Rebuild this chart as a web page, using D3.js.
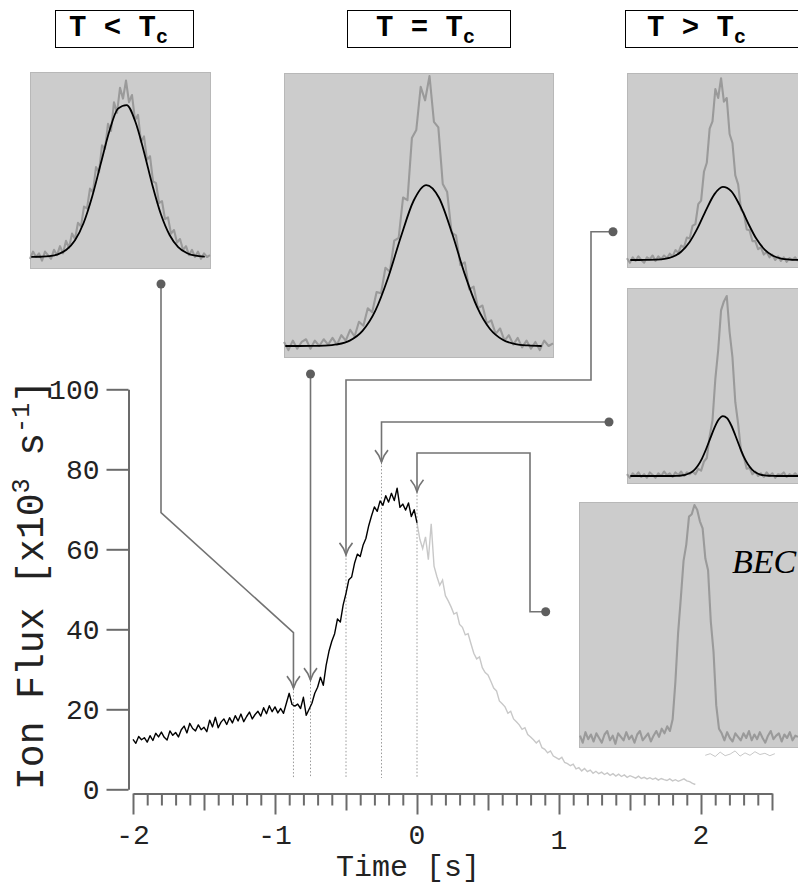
<!DOCTYPE html>
<html><head><meta charset="utf-8">
<script src="https://cdn.jsdelivr.net/npm/d3@7"></script>
<style>body{margin:0;background:#fff}text{white-space:pre}</style>
</head><body><svg id="c" width="798" height="892"></svg>
<script>
// ---------------- DATA ----------------
const xTickLabels = [-2, -1, 0, 1, 2];
const yTicks = [0, 20, 40, 60, 80, 100];

// main ion-flux trace before release (black), t from -2 s, step 0.02 s
const blackStart = -2, blackStep = 0.02;
const blackFlux = [12.5,11.5,13.2,12.4,12.9,11.8,13.4,12.2,14.0,13.1,14.3,13.0,12.3,14.6,13.5,14.2,13.1,14.9,15.8,14.1,
16.5,15.2,14.6,16.1,14.9,15.5,14.4,17.3,15.6,18.0,15.4,16.8,17.6,16.2,17.9,16.6,18.4,17.1,18.8,16.9,
18.2,19.3,17.6,18.7,19.5,18.3,20.4,18.9,20.9,19.4,20.6,19.1,20.2,19.0,21.5,24.0,21.2,20.8,21.3,20.2,
23.0,18.5,20.0,21.5,24.0,25.5,28.0,26.0,31.0,34.5,37.0,38.9,42.6,41.8,46.1,49.0,52.4,53.1,56.5,58.8,
58.2,61.0,62.7,65.9,68.4,70.6,69.5,72.1,71.0,73.4,71.8,74.0,72.2,75.3,70.5,71.3,69.8,71.6,68.2,69.9,66.6];

// trace after t = 0 (light grey), step 0.02 s
const grayStart = 0, grayStep = 0.02;
const grayFlux = [66.6,62.5,60.2,63.1,57.4,66.4,55.8,53.2,51.0,52.3,48.4,47.1,45.6,43.8,44.2,41.2,40.5,38.6,38.9,36.4,
34.0,32.6,33.1,30.4,29.2,28.6,27.0,25.3,24.6,22.1,21.4,20.6,19.0,19.5,17.6,16.9,16.1,15.0,15.4,13.7,
13.1,12.4,11.6,12.2,10.4,10.0,9.1,9.6,8.3,7.9,7.5,8.0,6.7,6.4,5.9,6.3,5.1,5.4,4.6,5.2,
4.4,4.8,4.0,4.5,3.9,4.3,3.7,4.1,3.5,3.9,3.3,3.8,3.2,3.6,3.0,3.4,3.1,2.8,3.3,2.7,
3.0,2.6,2.9,2.5,2.8,2.3,2.7,2.4,2.2,2.6,2.1,2.4,2.0,2.3,2.6,2.1,1.9,1.5,1.2];

// short faint segment below the BEC inset
const tailStart = 2.03, tailStep = 0.035;
const tailFlux = [8.5,8.9,8.2,9.3,8.4,8.8,9.6,8.3,9.1,8.5,9.4,8.7,9.0,8.4,8.9];

// snapshot times and flux level at the arrow tip
const snapTimes = [-0.87, -0.75, -0.5, -0.25, 0];
const snapTipFlux = [25.3, 27.3, 58.6, 81.8, 74.4];

// temperature labels
const tempLabels = ["T < T", "T = T", "T > T"];
const tempSub = "c";

// inset profiles (normalised signal 0..100)
const profileA = [-1,3,0,2,-2,3,1,-1,4,1,6,2,9,5,13,10,19,17,28,27,38,36,50,47,62,60,74,70,86,80,94,88,98,86,90,76,79,64,67,54,56,42,41,30,31,21,22,13,15,8,10,4,6,1,4,0,3,-1,2,0,1];
const fitA = [0.03,0.14,0.48,1.5,4.0,9.3,18.9,33.6,51.9,70.0,82.4,84.4,75.4,58.8,39.9,23.6,12.2,5.5,2.2,0.7,0.2];

const profileB = [1.5,-1.5,2,-1,1.5,2.5,-1,2,0,2.5,0.5,3,0.5,4,2,6,3.5,9,7.5,14,12.5,20,19.5,29,27.5,39,40,55,54,77,80,96,91,100,83,81,60,57,42,41,30,31,21,22,14,15,8.5,9.5,4.5,6.5,2,4,0.5,3,-0.5,2,-1,1.5,-1.5,2,0,1];
const fitB = [0,0,0.03,0.15,0.6,2.0,5.6,13.0,25.2,40.3,53.7,59.6,54.9,42.1,26.9,14.3,6.3,2.3,0.7,0.2,0];

const profileC = [1,-1.5,1.5,-0.5,2,0,-1.5,1.5,0.5,2.5,-0.5,2,0.5,2.5,1,3.5,2,5.5,4,8,7,12.5,12,19,20,31,33,49,54,73,77,95,90,101,88,90,70,65,47,42,28,26,17,16.5,10.5,10.5,6,7,3,4.5,1.5,3,0,2,-0.5,1.5,-1,1,0,1.5,-0.5];
const fitC = [0,0,0.04,0.17,0.6,1.8,4.6,9.9,18.0,27.9,36.6,40.6,38.3,30.6,20.7,11.9,5.8,2.4,0.8,0.25,0.06];

const profileD = [1,-1,1.5,0,2,-0.5,1,-1,2,0.5,-1,1.5,0,2.5,0.5,1.5,-0.5,2,0.5,2.5,0,2,1,2.5,1,4,3,8,10,22,31,54,70,92,97,100,80,66,41,29,14,10.5,4,4.5,1,2.5,0,1.5,-0.5,2,0,1.5,-1,1,0.5,2,-0.5,1,0,1.5,0];
const fitD = [0,0,0,0,0,0,0,0,0,0,0,0.1,0.27,0.66,1.5,3.0,5.7,9.7,15.0,21.0,26.9,31.4,33.3,32.1,28.2,22.5,16.4,10.8,6.5,3.6,1.8,0.8,0.34,0.13,0.05,0,0,0,0,0,0];

const profileE = [1,-2,2.5,-0.5,1.5,-1.5,2,0,-2,1.5,3,-1,1,-2.5,2,0.5,-1,2.5,-0.5,1,-2,1.5,3,-1,0.5,2,-1.5,1,3,0.5,4,2,5,3,8,24,45,60,76,83,95,96,100,98,93,90,77,72,50,37,14,4,2,-1,2.5,0,-1.5,2,0.5,-1,2,0,3,-1,1.5,-0.5,2.5,0,-2,1,3,-0.5,1,2,-1.5,1.5,0,2.5,-1,1,0.5];

// ---------------- DRAWING ----------------
const svg = d3.select('#c');
const mono = "'Liberation Mono','Courier New',monospace";
const axisColor = '#6b6b6b';
const connColor = '#737373';

const x = d3.scaleLinear().domain([-2, 2.5]).range([133, 772]);
const y = d3.scaleLinear().domain([0, 100]).range([789.3, 389.3]);

// ---- insets ----
const panels = [
  {box:[30,72,180,196], data:profileA, dRange:[30,210], fit:fitA, fRange:[32,204], base:257, top:77},
  {box:[284,73,269,284], data:profileB, dRange:[284,553], fit:fitB, fRange:[286,541], base:346, top:76},
  {box:[627,73,175,194], data:profileC, dRange:[627,798], fit:fitC, fRange:[631,798], base:260, top:80},
  {box:[627,288,175,195], data:profileD, dRange:[627,798], fit:fitD, fRange:[631,798], base:476, top:296},
  {box:[579,502,223,245], data:profileE, dRange:[580,798], fit:null, base:738, top:505}
];
panels.forEach(p => {
  const g = svg.append('g');
  g.append('rect').attr('x',p.box[0]+0.5).attr('y',p.box[1]+0.5).attr('width',p.box[2]).attr('height',p.box[3])
    .attr('fill','#cccccc').attr('stroke','#b8b8b8').attr('stroke-width',1);
  const py = d3.scaleLinear().domain([0,100]).range([p.base, p.top]);
  const px = d3.scaleLinear().domain([0, p.data.length-1]).range(p.dRange);
  g.append('path').datum(p.data)
    .attr('d', d3.line().x((d,i)=>px(i)).y(d=>py(d)))
    .attr('fill','none').attr('stroke','#9a9a9a').attr('stroke-width',2.1).attr('stroke-linejoin','round');
  if (p.fit) {
    const fx = d3.scaleLinear().domain([0, p.fit.length-1]).range(p.fRange);
    g.append('path').datum(p.fit)
      .attr('d', d3.line().x((d,i)=>fx(i)).y(d=>py(d)).curve(d3.curveMonotoneX))
      .attr('fill','none').attr('stroke','#000').attr('stroke-width',1.8).attr('stroke-linecap','round');
  }
});
svg.append('text').attr('x',732).attr('y',573).attr('font-family',"'Liberation Serif','Times New Roman',serif")
  .attr('font-style','italic').attr('font-size',34).attr('fill','#000').text('BEC');

// ---- temperature label boxes ----
const boxes = [[55,10,138,37,69],[347,10,163,37,376],[625,10,180,37,647]];
tempLabels.forEach((t,i) => {
  const b = boxes[i];
  svg.append('rect').attr('x',b[0]+0.5).attr('y',b[1]+0.5).attr('width',b[2]).attr('height',b[3])
    .attr('fill','#fff').attr('stroke','#000').attr('stroke-width',1);
  const tx = svg.append('text').attr('x',b[4]).attr('y',36).attr('font-family',mono)
    .attr('font-weight','bold').attr('font-size',29).attr('fill','#000');
  tx.append('tspan').text(t);
  tx.append('tspan').attr('dy',7).attr('font-size',20).text(tempSub);
});

// ---- axes ----
const gy = svg.append('g').attr('transform','translate(128.5,0)')
  .call(d3.axisLeft(y).tickValues(yTicks).tickSize(22).tickSizeOuter(0).tickPadding(7));
gy.select('.domain').attr('stroke',axisColor).attr('stroke-width',2);
gy.selectAll('.tick line').attr('stroke',axisColor).attr('stroke-width',2);
gy.selectAll('.tick text').attr('font-family',mono).attr('font-size',28).attr('fill','#222');

const minorTicks = d3.range(-20, 26).map(d => d/10);
const gx = svg.append('g').attr('transform','translate(0,793.5)')
  .call(d3.axisBottom(x).tickValues(minorTicks).tickSize(12).tickSizeOuter(0).tickFormat(''));
gx.select('.domain').attr('stroke',axisColor).attr('stroke-width',2);
gx.selectAll('.tick line').attr('stroke',axisColor).attr('stroke-width',2)
  .attr('y2', d => Math.abs(d - Math.round(d)) < 1e-6 ? 21 : (Math.abs(d*2 - Math.round(d*2)) < 1e-6 ? 17 : 12));
svg.append('g').selectAll('text').data(xTickLabels).join('text')
  .attr('x', d => x(d)).attr('y', d => d === 1 ? 849 : 844)
  .attr('text-anchor','middle').attr('font-family',mono).attr('font-size',28).attr('fill','#222')
  .text(d => d < 0 ? '-' + Math.abs(d) : String(d));

svg.append('text').attr('x',408).attr('y',876).attr('text-anchor','middle')
  .attr('font-family',mono).attr('font-size',30).attr('fill','#222').text('Time [s]');

const yt = svg.append('text').attr('transform','translate(43,585) rotate(-90)').attr('text-anchor','middle')
  .attr('font-family',mono).attr('font-size',38).attr('fill','#222');
yt.append('tspan').text('Ion Flux [x10');
yt.append('tspan').attr('dy',-14).attr('font-size',25).text('3');
yt.append('tspan').attr('dy',14).text(' s');
yt.append('tspan').attr('dy',-14).attr('font-size',25).text('-1');
yt.append('tspan').attr('dy',14).text(']');

// ---- main traces ----
const line = (start, step) => d3.line().x((d,i)=>x(start + i*step)).y(d=>y(d));
svg.append('path').datum(grayFlux).attr('d', line(grayStart, grayStep))
  .attr('fill','none').attr('stroke','#c8c8c8').attr('stroke-width',1.4);
svg.append('path').datum(tailFlux).attr('d', line(tailStart, tailStep))
  .attr('fill','none').attr('stroke','#c8c8c8').attr('stroke-width',1);

// dotted verticals
svg.append('g').selectAll('line').data(snapTimes).join('line')
  .attr('x1', d=>x(d)).attr('x2', d=>x(d))
  .attr('y1', (d,i)=>y(snapTipFlux[i])).attr('y2', 778)
  .attr('stroke','#999').attr('stroke-width',1).attr('stroke-dasharray','1.5,2');

svg.append('path').datum(blackFlux).attr('d', line(blackStart, blackStep))
  .attr('fill','none').attr('stroke','#000').attr('stroke-width',1.4).attr('stroke-linejoin','round');

// ---- connectors ----
const tip = i => [x(snapTimes[i]), y(snapTipFlux[i])];
const connectors = [
  [[161,284],[161,512.7],[tip(0)[0],632.7],tip(0)],
  [[tip(1)[0],374],tip(1)],
  [[613,231.7],[591,231.7],[591,380],[tip(2)[0],380],tip(2)],
  [[609,422],[tip(3)[0],422],tip(3)],
  [[545.7,611.7],[530,611.7],[530,453],[tip(4)[0],453],tip(4)]
];
const cg = svg.append('g');
connectors.forEach((pts,i) => {
  cg.append('path').attr('d', d3.line()(pts)).attr('fill','none').attr('stroke',connColor).attr('stroke-width',1.6);
  cg.append('circle').attr('cx',pts[0][0]).attr('cy',pts[0][1]).attr('r',4.5).attr('fill','#5e5e5e');
  const [tx,ty] = tip(i);
  cg.append('path').attr('d',`M${tx-6.5},${ty-12} Q${tx-2},${ty-7} ${tx},${ty} Q${tx+2},${ty-7} ${tx+6.5},${ty-12}`)
    .attr('fill','none').attr('stroke',connColor).attr('stroke-width',1.6);
});
</script></body></html>
